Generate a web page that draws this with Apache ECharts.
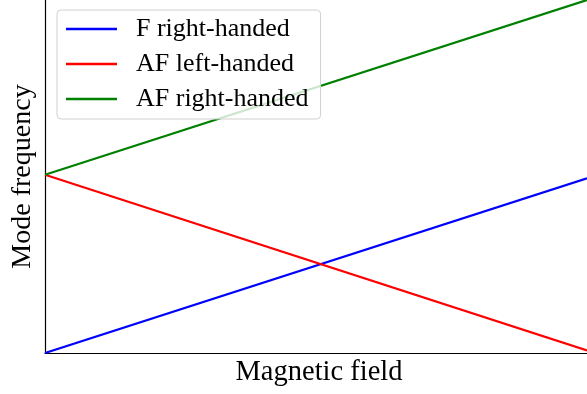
<!DOCTYPE html>
<html><head><meta charset="utf-8">
<script src="https://cdn.jsdelivr.net/npm/echarts@6/dist/echarts.min.js"></script>
<style>html,body{margin:0;padding:0;background:#fff}#c{width:587px;height:394px}</style>
</head><body><div id="c"></div>
<script>
const xValues = [0, 1];
const fRight = [0, 0.99];
const afLeft = [1.01, 0.015];
const afRight = [1.01, 2.0];
const seriesNames = ['F right-handed', 'AF left-handed', 'AF right-handed'];
const xLabel = 'Magnetic field';
const yLabel = 'Mode frequency';

const font = 'Liberation Serif';
const chart = echarts.init(document.getElementById('c'), null, {renderer: 'canvas'});
const mk = (vals) => xValues.map((x, i) => [x, vals[i]]);
chart.setOption({
  animation: false,
  grid: {left: 45, right: 0, top: 0, bottom: 41, containLabel: false, outerBoundsMode: 'none'},
  legend: {
    orient: 'vertical', left: 57, top: 10,
    padding: [6, 12, 7, 9],
    icon: 'rect', itemWidth: 51, itemHeight: 2.5, itemGap: 9,
    backgroundColor: 'rgba(255,255,255,0.8)', borderColor: '#d0d0d0', borderWidth: 1, borderRadius: 4,
    textStyle: {fontFamily: font, fontSize: 26, color: '#000', padding: [0, 0, 0, 14], lineHeight: 25},
    data: seriesNames
  },
  xAxis: {
    type: 'value', min: 0, max: 1,
    axisLine: {show: true, lineStyle: {color: '#000', width: 1.2}},
    axisTick: {show: false}, axisLabel: {show: false}, splitLine: {show: false},
    name: xLabel, nameLocation: 'middle', nameGap: 5,
    nameTextStyle: {fontFamily: font, fontSize: 28.5, color: '#000', verticalAlign: 'top', padding: [0, 0, 0, 6]}
  },
  yAxis: {
    type: 'value', min: 0, max: 2,
    axisLine: {show: true, lineStyle: {color: '#000', width: 1.2}},
    axisTick: {show: false}, axisLabel: {show: false}, splitLine: {show: false},
    name: yLabel, nameLocation: 'middle', nameGap: 8,
    nameTextStyle: {fontFamily: font, fontSize: 28, color: '#000'}
  },
  series: [
    {name: seriesNames[0], type: 'line', data: mk(fRight), showSymbol: false, lineStyle: {color: '#0000ff', width: 2.2}, itemStyle: {color: '#0000ff'}},
    {name: seriesNames[1], type: 'line', data: mk(afLeft), showSymbol: false, lineStyle: {color: '#ff0000', width: 2.2}, itemStyle: {color: '#ff0000'}},
    {name: seriesNames[2], type: 'line', data: mk(afRight), showSymbol: false, lineStyle: {color: '#008000', width: 2.2}, itemStyle: {color: '#008000'}}
  ]
});
</script></body></html>
